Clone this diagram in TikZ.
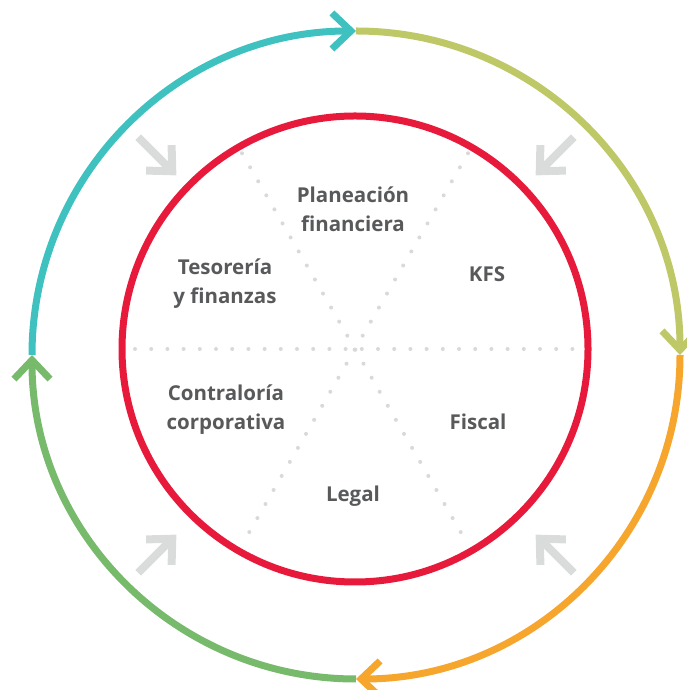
\documentclass[tikz,border=0pt]{standalone}
\usepackage{fontspec}
\setmainfont[Ligatures={NoCommon}]{Open Sans}
\usetikzlibrary{arrows.meta, positioning}

\definecolor{cycleteal}{HTML}{3EC1BF}
\definecolor{cycleolive}{HTML}{BEC867}
\definecolor{cycleorange}{HTML}{F6A52D}
\definecolor{cyclegreen}{HTML}{77BA6B}
\definecolor{corered}{HTML}{E81A3B}
\definecolor{dotgray}{HTML}{D9D9D9}
\definecolor{arrowgray}{HTML}{DADCDB}
\definecolor{labelgray}{HTML}{58595B}

\begin{document}
\begin{tikzpicture}[
    x = 1pt, y = 1pt, % one unit is one pixel of the sketch
    > = {Straight Barb[length=19pt, width=36pt, sharp]}, % open chevron head
    cycle/.style = {line width=7pt, ->},
    inward/.style = {line width=8pt, arrowgray, ->},
    spoke/.style = {dotgray, line width=4pt, line cap=round, dash pattern=on 0pt off 16.2pt},
    area/.style = {text=labelgray, font=\fontsize{20.5}{29}\selectfont\bfseries, align=center}
  ]
  \useasboundingbox (0,0) rectangle (686,690);

  % outer ring
  \coordinate (hub) at (356,335);
  \coordinate (west) at (32,335);
  \coordinate (north) at (356,659);
  \coordinate (east) at (680,335);
  \coordinate (south) at (356,11);

  \draw[cycle, cycleteal] (west) arc[start angle=180, end angle=90, radius=324pt];
  \draw[cycle, cycleolive] (north) arc[start angle=90, end angle=0, radius=324pt];
  \draw[cycle, cycleorange] (east) arc[start angle=0, end angle=-90, radius=324pt];
  \draw[cycle, cyclegreen] (south) arc[start angle=270, end angle=180, radius=324pt];

  % inner circle and dotted spokes
  \coordinate (core) at (355,341);
  \coordinate (spokeW) at (135,341);
  \coordinate (spokeE) at (582,341);
  \coordinate (spokeNW) at ([shift={(120:226)}]core);
  \coordinate (spokeSE) at ([shift={(-60:226)}]core);
  \coordinate (spokeNE) at ([shift={(60:226)}]core);
  \coordinate (spokeSW) at ([shift={(240:226)}]core);

  \draw[spoke] (spokeW) -- (spokeE);
  \draw[spoke] (spokeNW) -- (spokeSE);
  \draw[spoke] (spokeNE) -- (spokeSW);
  \draw[corered, line width=7pt] (core) circle[radius=233pt];

  % grey arrows pointing in
  \coordinate (inNWa) at ([shift={(135:308)}]hub);
  \coordinate (inNWb) at ([shift={(135:254)}]hub);
  \coordinate (inNEa) at ([shift={(45:308)}]hub);
  \coordinate (inNEb) at ([shift={(45:254)}]hub);
  \coordinate (inSWa) at ([shift={(-135:308)}]hub);
  \coordinate (inSWb) at ([shift={(-135:254)}]hub);
  \coordinate (inSEa) at ([shift={(-45:308)}]hub);
  \coordinate (inSEb) at ([shift={(-45:254)}]hub);

  \draw[inward] (inNWa) -- (inNWb);
  \draw[inward] (inNEa) -- (inNEb);
  \draw[inward] (inSWa) -- (inSWb);
  \draw[inward] (inSEa) -- (inSEb);

  % areas
  \node[area] (plan) at (353,481) {Planeación\\financiera};
  \node[area] (kfs) at (487,416) {KFS};
  \node[area] (teso) at (225,406) {Tesorería\\y finanzas};
  \node[area] (contra) at (226,280) {Contraloría\\corporativa};
  \node[area] (fiscal) at (478,268) {Fiscal};
  \node[area] (legal) at (353,194) {Legal};
\end{tikzpicture}
\end{document}
